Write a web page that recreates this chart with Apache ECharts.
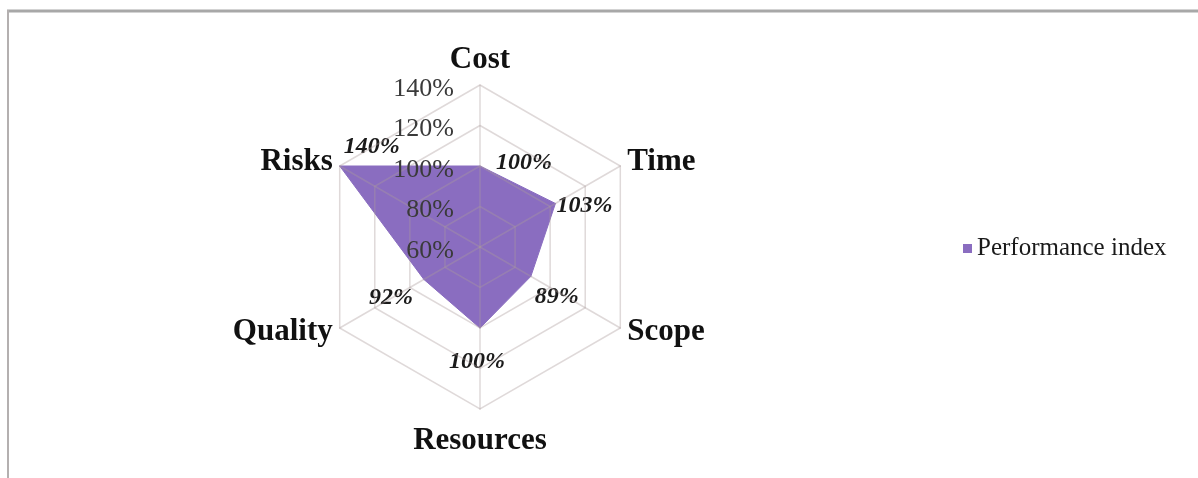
<!DOCTYPE html>
<html><head><meta charset="utf-8">
<script src="https://cdn.jsdelivr.net/npm/echarts@6/dist/echarts.min.js"></script>
<style>html,body{margin:0;padding:0;background:#fff}#c{width:1198px;height:478px}</style>
</head><body><div id="c"></div>
<script>
// ---- data ----
const indicators = ['Cost', 'Time', 'Scope', 'Resources', 'Quality', 'Risks'];
const performanceIndex = [100, 103, 89, 100, 92, 140];
const axisMin = 60;
const axisMax = 140;
const seriesName = 'Performance index';

// ---- layout/style only ----
// ECharts radar runs counter-clockwise; feed the axes in this order so the chart reads clockwise.
const drawOrder = [0, 5, 4, 3, 2, 1];
// label shift (px) relative to each vertex, in the original indicator order
const labelShift = [[44, -3], [29, 2], [26, 20], [-3, 34], [-33, 18], [32, -19]];
const serif = '"Liberation Serif", "Times New Roman", serif';
const fill = '#8a6dc0';
const gridColor = 'rgba(170,155,155,0.38)';

const rich = {};
drawOrder.forEach(function (orig, k) {
  const dx = labelShift[orig][0], dy = labelShift[orig][1];
  rich['d' + k] = {
    fontFamily: serif, fontSize: 24, fontWeight: 'bold', fontStyle: 'italic', color: '#1a1a1a',
    padding: [Math.max(2 * dy, 0), Math.max(-2 * dx, 0), Math.max(-2 * dy, 0), Math.max(2 * dx, 0)]
  };
});

const nameRich = {
  top: { fontFamily: serif, fontSize: 31, fontWeight: 'bold', color: '#111', padding: [0, 0, 2, 0] },
  side: { fontFamily: serif, fontSize: 31, fontWeight: 'bold', color: '#111' },
  bottom: { fontFamily: serif, fontSize: 31, fontWeight: 'bold', color: '#111', padding: [8, 0, 0, 0] }
};

const chart = echarts.init(document.getElementById('c'), null, { renderer: 'canvas' });
chart.setOption({
  backgroundColor: '#ffffff',
  animation: false,
  legend: {
    data: [seriesName],
    left: 958, top: 231,
    icon: 'rect', itemWidth: 9, itemHeight: 9, itemGap: 4,
    textStyle: { fontFamily: serif, fontSize: 25, color: '#1a1a1a' }
  },
  radar: {
    z: 3,
    center: [480, 247],
    radius: 162,
    startAngle: 90,
    shape: 'polygon',
    splitNumber: 4,
    indicator: drawOrder.map(function (i, k) {
      const o = { name: indicators[i], min: axisMin, max: axisMax };
      if (k === 0) o.axisLabel = { show: true };
      return o;
    }),
    axisName: {
      fontFamily: serif, fontSize: 31, fontWeight: 'bold', color: '#111',
      formatter: function (name) {
        if (name === indicators[0]) return '{top|' + name + '}';
        if (name === indicators[3]) return '{bottom|' + name + '}';
        return '{side|' + name + '}';
      },
      rich: nameRich
    },
    nameGap: 8,
    axisLabel: {
      show: false,
      showMinLabel: true,
      margin: 26,
      fontFamily: serif, fontSize: 26, color: '#3a3a3a',
      formatter: function (v) { return '{t|' + v + '%}'; },
      rich: {
        t: { fontFamily: serif, fontSize: 26, color: '#3a3a3a', padding: [8, 0, 0, 0] }
      }
    },
    axisLine: { lineStyle: { color: gridColor, width: 1.5 } },
    splitLine: { lineStyle: { color: gridColor, width: 1.5 } },
    splitArea: { show: false }
  },
  graphic: [
    { type: 'line', shape: { x1: 7, y1: 11, x2: 1198, y2: 11 }, style: { stroke: '#a8a8a8', lineWidth: 3 } },
    { type: 'line', shape: { x1: 8, y1: 10, x2: 8, y2: 478 }, style: { stroke: '#b4b0b0', lineWidth: 2 } }
  ],
  series: [{
    type: 'radar',
    name: seriesName,
    z: 2,
    symbol: 'circle',
    symbolSize: 1,
    itemStyle: { color: fill },
    lineStyle: { color: fill, width: 1 },
    areaStyle: { color: fill, opacity: 1 },
    label: {
      show: true,
      position: 'inside',
      formatter: function (p) {
        return '{d' + p.dimensionIndex + '|' + p.value + '%}';
      },
      rich: rich
    },
    data: [{ value: drawOrder.map(function (i) { return performanceIndex[i]; }), name: seriesName }]
  }]
});
</script></body></html>
